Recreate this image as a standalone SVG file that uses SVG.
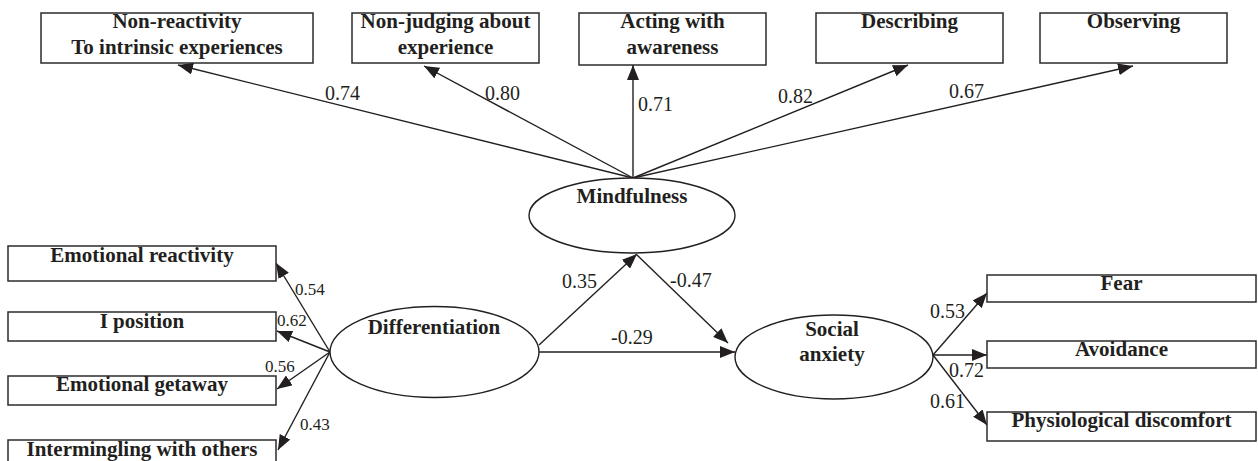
<svg xmlns="http://www.w3.org/2000/svg" width="1258" height="461" viewBox="0 0 1258 461">
<style>
.box{fill:#fff;stroke:#2b2b2b;stroke-width:1.5}
.ell{fill:#fff;stroke:#231f20;stroke-width:1.4}
.nt{font-family:"Liberation Serif","Times New Roman",serif;font-weight:bold;font-size:21px;fill:#231f20;text-anchor:middle}
.lb{font-family:"Liberation Serif","Times New Roman",serif;font-size:20px;fill:#231f20}
.lbs{font-family:"Liberation Serif","Times New Roman",serif;font-size:17px;fill:#231f20}
.ln{fill:none;stroke:#231f20;stroke-width:1.4;marker-end:url(#ah)}
</style>
<defs>
<marker id="ah" markerUnits="userSpaceOnUse" markerWidth="16" markerHeight="12" refX="15" refY="6" orient="auto">
<path d="M0,0 L15,6 L0,12 z" fill="#231f20"/>
</marker>
</defs>
<rect width="1258" height="461" fill="#fff"/>
<g id="connectors">
<line class="ln" x1="633" y1="178" x2="178" y2="65"/>
<line class="ln" x1="633" y1="178" x2="424" y2="66"/>
<line class="ln" x1="633" y1="178" x2="633" y2="65"/>
<line class="ln" x1="633" y1="178" x2="908" y2="65"/>
<line class="ln" x1="633" y1="178" x2="1133" y2="66"/>
<line class="ln" x1="330" y1="352" x2="276" y2="263"/>
<line class="ln" x1="330" y1="352" x2="277" y2="331"/>
<line class="ln" x1="330" y1="352" x2="277" y2="389"/>
<line class="ln" x1="330" y1="352" x2="278" y2="450"/>
<line class="ln" x1="539" y1="345" x2="637" y2="254"/>
<line class="ln" x1="637" y1="255" x2="728" y2="343"/>
<line class="ln" x1="539" y1="352" x2="735" y2="352"/>
<line class="ln" x1="933" y1="355" x2="987" y2="293"/>
<line class="ln" x1="933" y1="355" x2="987" y2="355"/>
<line class="ln" x1="933" y1="355" x2="987" y2="425"/>
</g>
<g id="labels">
<text class="lb" x="325" y="100">0.74</text>
<text class="lb" x="485" y="100">0.80</text>
<text class="lb" x="638" y="111">0.71</text>
<text class="lb" x="778" y="103">0.82</text>
<text class="lb" x="949" y="98">0.67</text>
<text class="lbs" x="295" y="295">0.54</text>
<text class="lbs" x="277" y="326">0.62</text>
<text class="lbs" x="265" y="372">0.56</text>
<text class="lbs" x="300" y="430">0.43</text>
<text class="lb" x="562" y="288">0.35</text>
<text class="lb" x="670" y="287">-0.47</text>
<text class="lb" x="611" y="344">-0.29</text>
<text class="lb" x="930" y="318">0.53</text>
<text class="lb" x="949" y="377">0.72</text>
<text class="lb" x="930" y="408">0.61</text>
</g>
<g id="n-nonreactivity">
<rect class="box" x="41" y="13" width="272" height="50"/>
<text class="nt" x="177" y="28">Non-reactivity</text>
<text class="nt" x="177" y="54">To intrinsic experiences</text>
</g>
<g id="n-nonjudging">
<rect class="box" x="352" y="13" width="187" height="50"/>
<text class="nt" x="445.5" y="28">Non-judging about</text>
<text class="nt" x="445.5" y="54">experience</text>
</g>
<g id="n-acting">
<rect class="box" x="579" y="13" width="187" height="52"/>
<text class="nt" x="672.5" y="28">Acting with</text>
<text class="nt" x="672.5" y="54">awareness</text>
</g>
<g id="n-describing">
<rect class="box" x="816" y="13" width="187" height="50"/>
<text class="nt" x="909.5" y="28">Describing</text>
</g>
<g id="n-observing">
<rect class="box" x="1040" y="13" width="187" height="50"/>
<text class="nt" x="1133.5" y="28">Observing</text>
</g>
<g id="n-mindfulness">
<ellipse class="ell" cx="632" cy="215.5" rx="103" ry="37.5"/>
<text class="nt" x="632" y="203">Mindfulness</text>
</g>
<g id="n-differentiation">
<ellipse class="ell" cx="434.5" cy="352" rx="104.5" ry="45.5"/>
<text class="nt" x="434" y="334">Differentiation</text>
</g>
<g id="n-social">
<ellipse class="ell" cx="834" cy="357" rx="99" ry="42"/>
<text class="nt" x="832" y="336">Social</text>
<text class="nt" x="832" y="361">anxiety</text>
</g>
<g id="n-emoreact">
<rect class="box" x="8" y="246" width="268" height="35"/>
<text class="nt" x="142" y="262">Emotional reactivity</text>
</g>
<g id="n-iposition">
<rect class="box" x="8" y="312" width="268" height="29"/>
<text class="nt" x="142" y="328">I position</text>
</g>
<g id="n-getaway">
<rect class="box" x="8" y="376" width="268" height="29"/>
<text class="nt" x="142" y="391">Emotional getaway</text>
</g>
<g id="n-intermingling">
<rect class="box" x="8" y="440" width="268" height="30"/>
<text class="nt" x="142" y="456">Intermingling with others</text>
</g>
<g id="n-fear">
<rect class="box" x="987" y="275" width="269" height="27"/>
<text class="nt" x="1121.5" y="290">Fear</text>
</g>
<g id="n-avoidance">
<rect class="box" x="987" y="341" width="269" height="27"/>
<text class="nt" x="1121.5" y="356">Avoidance</text>
</g>
<g id="n-physio">
<rect class="box" x="987" y="412" width="269" height="29"/>
<text class="nt" x="1121.5" y="427">Physiological discomfort</text>
</g>
</svg>
